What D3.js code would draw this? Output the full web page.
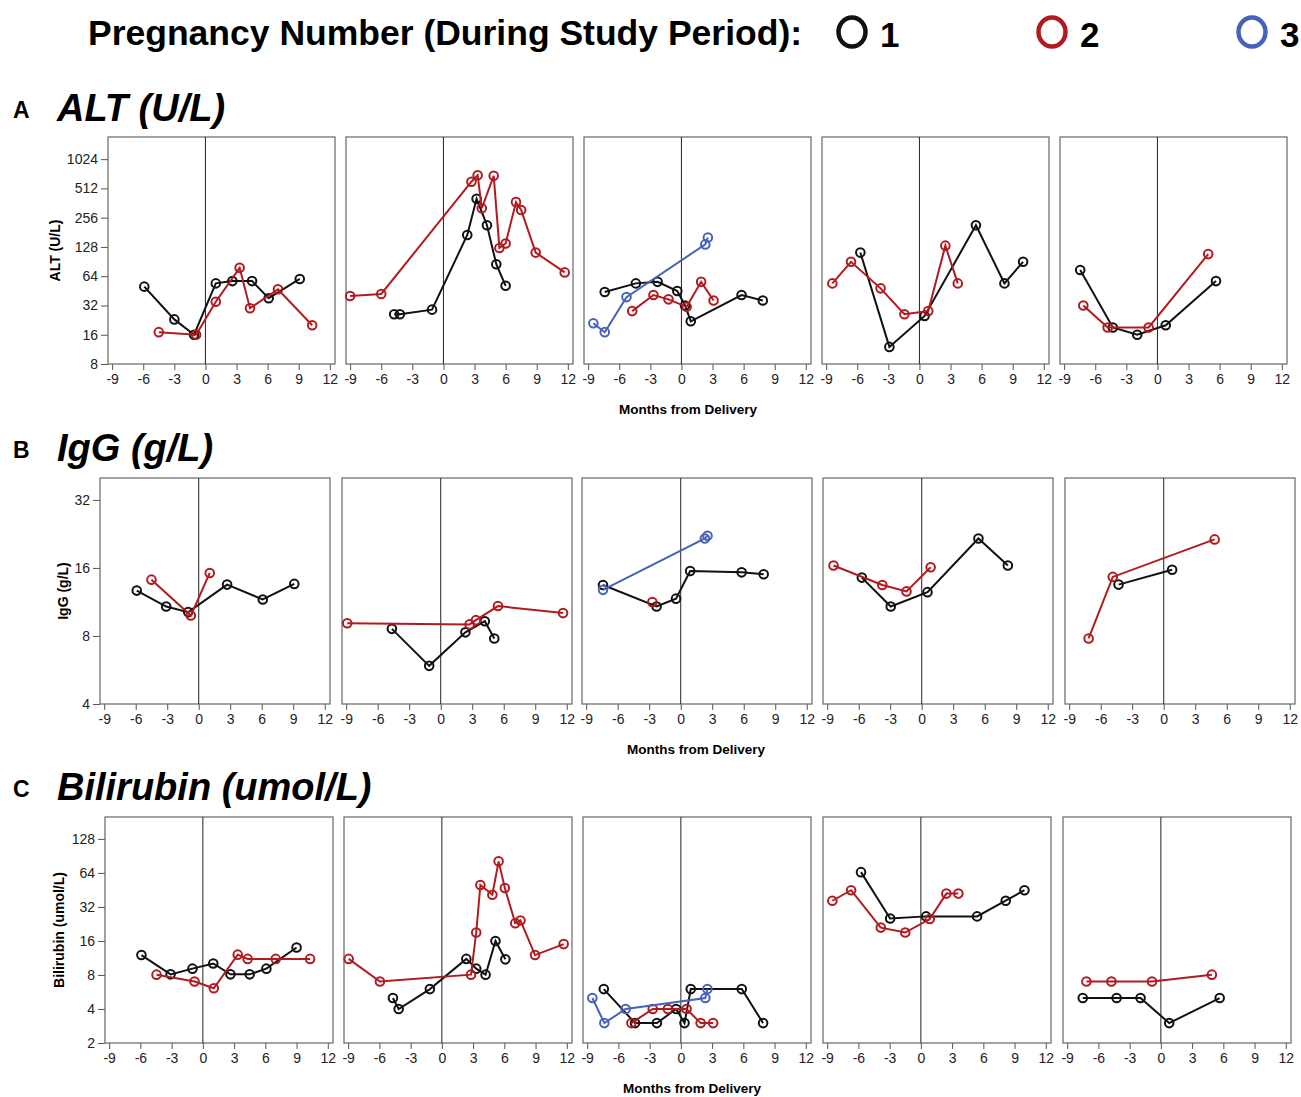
<!DOCTYPE html>
<html>
<head>
<meta charset="utf-8">
<script src="https://cdn.jsdelivr.net/npm/d3@7"></script>
<style>
  body { margin: 0; background: #fff; }
  svg { display: block; font-family: "Liberation Sans", Arial, Helvetica, sans-serif; }
</style>
</head>
<body>
<svg id="chart" width="1301" height="1097"></svg>
<script>
// --- DATA ---
const monthTicks = [-9, -6, -3, 0, 3, 6, 9, 12];
const altTicks = [8, 16, 32, 64, 128, 256, 512, 1024];
const iggTicks = [4, 8, 16, 32];
const biliTicks = [2, 4, 8, 16, 32, 64, 128];
const pregnancies = [1, 2, 3];

// each row: panel (1-5), pregnancy number, months from delivery, values
const altData = [
  { panel: 1, preg: 1, months: [-5.9, -3.0, -1.1, 1.0, 2.6, 4.5, 6.1, 9.1], values: [50, 23, 16, 54, 57, 57, 38, 60] },
  { panel: 1, preg: 2, months: [-4.5, -0.9, 1.0, 3.3, 4.3, 7.0, 10.3], values: [17, 16, 35, 78, 30, 47, 20] },
  { panel: 2, preg: 1, months: [-4.75, -4.2, -1.1, 2.3, 3.2, 4.2, 5.1, 6.0], values: [26, 26, 29, 170, 400, 214, 85, 51] },
  { panel: 2, preg: 2, months: [-9.0, -6.0, 2.7, 3.3, 3.7, 4.85, 5.4, 6.0, 7.0, 7.5, 8.9, 11.7], values: [40, 42, 600, 700, 320, 690, 125, 139, 370, 307, 112, 70] },
  { panel: 3, preg: 1, months: [-7.4, -4.4, -2.3, -0.4, 0.35, 0.9, 5.8, 7.85], values: [44, 54, 56, 45, 32, 22, 41, 36] },
  { panel: 3, preg: 2, months: [-4.75, -2.7, -1.25, 0.5, 1.9, 3.1], values: [28, 41, 37, 31, 56, 36] },
  { panel: 3, preg: 3, months: [-8.5, -7.4, -5.3, 2.3, 2.55], values: [21, 17, 39, 136, 160] },
  { panel: 4, preg: 1, months: [-5.7, -2.9, 0.5, 5.45, 8.2, 10.0], values: [112, 12, 25, 214, 54, 90] },
  { panel: 4, preg: 2, months: [-8.4, -6.6, -3.75, -1.45, 0.85, 2.5, 3.7], values: [54, 90, 48, 26, 28, 132, 54] },
  { panel: 5, preg: 1, months: [-7.45, -4.3, -1.95, 0.8, 5.65], values: [74, 19, 16, 20, 57] },
  { panel: 5, preg: 2, months: [-7.15, -4.8, -0.85, 4.9], values: [32, 19, 19, 108] }
];

const iggData = [
  { panel: 1, preg: 1, months: [-5.9, -3.1, -1.0, 2.7, 6.1, 9.1], values: [12.7, 10.8, 10.2, 13.5, 11.6, 13.6] },
  { panel: 1, preg: 2, months: [-4.5, -0.75, 1.05], values: [14.2, 9.85, 15.2] },
  { panel: 2, preg: 1, months: [-4.65, -1.1, 2.35, 4.2, 5.1], values: [8.6, 5.9, 8.3, 9.3, 7.8] },
  { panel: 2, preg: 2, months: [-8.9, 2.75, 3.35, 5.45, 11.65], values: [9.1, 9.0, 9.4, 10.85, 10.1] },
  { panel: 3, preg: 1, months: [-7.4, -2.3, -0.45, 0.9, 5.8, 7.9], values: [13.45, 10.8, 11.7, 15.5, 15.3, 15.0] },
  { panel: 3, preg: 2, months: [-2.7], values: [11.3] },
  { panel: 3, preg: 3, months: [-7.4, 2.3, 2.55], values: [12.8, 21.6, 22.2] },
  { panel: 4, preg: 1, months: [-5.7, -2.95, 0.55, 5.4, 8.2], values: [14.5, 10.8, 12.5, 21.6, 16.4] },
  { panel: 4, preg: 2, months: [-8.4, -3.75, -1.45, 0.85], values: [16.4, 13.45, 12.6, 16.1] },
  { panel: 5, preg: 1, months: [-4.3, 0.8], values: [13.5, 15.7] },
  { panel: 5, preg: 2, months: [-7.15, -4.85, 4.85], values: [7.8, 14.6, 21.4] }
];

const biliData = [
  { panel: 1, preg: 1, months: [-5.9, -3.1, -1.0, 1.0, 2.65, 4.5, 6.1, 9.0], values: [12, 8.1, 9.1, 10.1, 8.1, 8.1, 9.1, 14] },
  { panel: 1, preg: 2, months: [-4.45, -0.8, 1.05, 3.35, 4.3, 7.0, 10.3], values: [8.05, 7.0, 6.1, 12.1, 11.1, 11.1, 11.1] },
  { panel: 2, preg: 1, months: [-4.7, -4.15, -1.15, 2.35, 3.3, 4.2, 5.15, 6.1], values: [5.0, 4.0, 6.0, 11.1, 9.1, 8.05, 16, 11] },
  { panel: 2, preg: 2, months: [-8.95, -5.95, 2.8, 3.3, 3.7, 4.85, 5.45, 6.05, 7.05, 7.55, 8.95, 11.7], values: [11.1, 7.0, 8.05, 19, 50, 41, 81, 47, 23, 24.3, 12, 15] },
  { panel: 3, preg: 1, months: [-7.4, -4.4, -2.3, -0.45, 0.35, 0.95, 5.85, 7.9], values: [6, 3, 3, 4, 3, 6, 6, 3] },
  { panel: 3, preg: 2, months: [-4.75, -2.7, -1.25, 0.55, 1.9, 3.1], values: [3, 4, 4, 4, 3, 3] },
  { panel: 3, preg: 3, months: [-8.5, -7.35, -5.3, 2.35, 2.55], values: [5, 3, 4, 5, 6] },
  { panel: 4, preg: 1, months: [-5.75, -2.95, 0.5, 5.4, 8.15, 9.95], values: [65, 25.3, 26.4, 26.4, 36.3, 45] },
  { panel: 4, preg: 2, months: [-8.5, -6.7, -3.85, -1.5, 0.85, 2.45, 3.6], values: [36.3, 45, 21, 19, 25, 42, 42] },
  { panel: 5, preg: 1, months: [-7.5, -4.25, -1.95, 0.8, 5.65], values: [5, 5, 5, 3, 5] },
  { panel: 5, preg: 2, months: [-7.15, -4.75, -0.85, 4.9], values: [7, 7, 7, 8.05] }
];

// --- STYLE / LAYOUT ---
const COLORS = { 1: "#111111", 2: "#b01b20", 3: "#4763b9" };
const svg = d3.select("#chart");
const plainNum = d => String(d); // hyphen minus, like the original

// header legend
const legend = svg.append("g");
legend.append("text")
  .attr("x", 88).attr("y", 45)
  .attr("font-size", "35.5px").attr("font-weight", "bold").attr("fill", "#000")
  .text("Pregnancy Number (During Study Period):");
const legendX = d3.scalePoint().domain(pregnancies).range([852, 1252]);
pregnancies.forEach(p => {
  legend.append("ellipse")
    .attr("cx", legendX(p)).attr("cy", 32).attr("rx", 13.5).attr("ry", 14.5)
    .attr("fill", "none").attr("stroke", COLORS[p]).attr("stroke-width", 4.5);
  legend.append("text")
    .attr("x", legendX(p) + 28).attr("y", 47)
    .attr("font-size", "35px").attr("font-weight", "bold").attr("fill", "#000")
    .text(p);
});

const rows = [
  { letter: "A", title: "ALT (U/L)", yTitle: "ALT (U/L)", data: altData, ticks: altTicks, yDomain: [8, 1730],
    titleY: 121, top: 137, height: 227, width: 227, lefts: [108, 346, 584, 822, 1060], yTitleX: 55, xLabelX: 688 },
  { letter: "B", title: "IgG (g/L)", yTitle: "IgG  (g/L)", data: iggData, ticks: iggTicks, yDomain: [4, 40],
    titleY: 461, top: 478, height: 226, width: 230, lefts: [100, 342, 582, 823, 1065], yTitleX: 63, xLabelX: 696 },
  { letter: "C", title: "Bilirubin (umol/L)", yTitle: "Bilirubin  (umol/L)", data: biliData, ticks: biliTicks, yDomain: [2, 200],
    titleY: 800, top: 817, height: 226, width: 228, lefts: [105, 344, 583, 823, 1063], yTitleX: 59, xLabelX: 692 }
];

function drawRow(cfg) {
  const g = svg.append("g");

  // section heading
  g.append("text").attr("x", 13).attr("y", cfg.titleY - 3)
    .attr("font-size", "23px").attr("font-weight", "bold").text(cfg.letter);
  g.append("text").attr("x", 57).attr("y", cfg.titleY)
    .attr("font-size", "38px").attr("font-weight", "bold").attr("font-style", "italic")
    .text(cfg.title);

  const y = d3.scaleLog().base(2).domain(cfg.yDomain).range([cfg.top + cfg.height, cfg.top]);

  // y axis only on first panel
  const yAxis = d3.axisLeft(y).tickValues(cfg.ticks).tickFormat(plainNum).tickSize(7).tickPadding(3);
  const ya = g.append("g").attr("transform", `translate(${cfg.lefts[0]},0)`).call(yAxis);
  ya.select(".domain").remove();
  ya.selectAll("line").attr("stroke", "#555");
  ya.selectAll("text").attr("font-size", "14px").attr("fill", "#222")
    .attr("font-family", "'Liberation Sans', Arial, sans-serif");

  g.append("text")
    .attr("transform", `translate(${cfg.yTitleX},${cfg.top + cfg.height / 2}) rotate(-90)`)
    .attr("text-anchor", "middle").attr("dominant-baseline", "central")
    .attr("font-size", "14px").attr("font-weight", "bold").text(cfg.yTitle);

  cfg.lefts.forEach((left, i) => {
    const panelNo = i + 1;
    const x = d3.scaleLinear().domain([-9.4, 12.5]).range([left, left + cfg.width]);
    const pg = g.append("g");

    // x axis
    const xa = pg.append("g").attr("transform", `translate(0,${cfg.top + cfg.height})`)
      .call(d3.axisBottom(x).tickValues(monthTicks).tickFormat(plainNum).tickSize(6).tickPadding(4));
    xa.select(".domain").remove();
    xa.selectAll("line").attr("stroke", "#555");
    xa.selectAll("text").attr("font-size", "14px").attr("fill", "#222")
      .attr("font-family", "'Liberation Sans', Arial, sans-serif");

    // frame
    pg.append("rect")
      .attr("x", left).attr("y", cfg.top).attr("width", cfg.width).attr("height", cfg.height)
      .attr("fill", "none").attr("stroke", "#666").attr("stroke-width", 1.2);

    // delivery line
    pg.append("line")
      .attr("x1", x(0)).attr("x2", x(0)).attr("y1", cfg.top).attr("y2", cfg.top + cfg.height)
      .attr("stroke", "#222").attr("stroke-width", 1);

    const line = d3.line().x(d => x(d[0])).y(d => y(d[1]));

    cfg.data.filter(s => s.panel === panelNo).forEach(s => {
      const pts = s.months.map((m, j) => [m, s.values[j]]);
      pg.append("path").datum(pts)
        .attr("d", line)
        .attr("fill", "none").attr("stroke", COLORS[s.preg]).attr("stroke-width", 2);
      pg.selectAll(null).data(pts).join("circle")
        .attr("cx", d => x(d[0])).attr("cy", d => y(d[1])).attr("r", 4.3)
        .attr("fill", "none").attr("stroke", COLORS[s.preg]).attr("stroke-width", 2);
    });
  });

  g.append("text")
    .attr("x", cfg.xLabelX).attr("y", cfg.top + cfg.height + 50)
    .attr("text-anchor", "middle").attr("font-size", "13.5px").attr("font-weight", "bold")
    .text("Months from Delivery");
}

rows.forEach(drawRow);
</script>
</body>
</html>
